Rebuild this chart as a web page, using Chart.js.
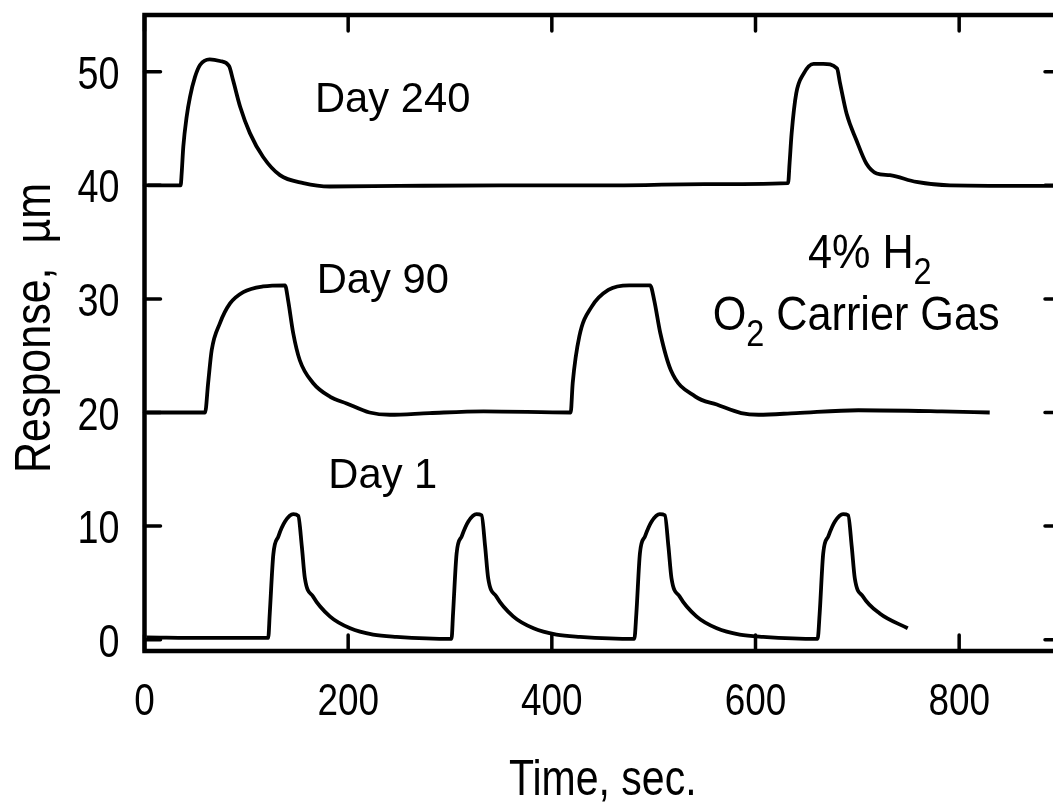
<!DOCTYPE html>
<html>
<head>
<meta charset="utf-8">
<script src="https://cdn.jsdelivr.net/npm/chart.js@4.4.1/dist/chart.umd.min.js"></script>
<style>
  html, body { margin: 0; padding: 0; background: #fff; overflow: hidden; }
  #wrap { width: 1053px; height: 804px; overflow: hidden; }
  canvas { display: block; }
</style>
</head>
<body>
<div id="wrap"><canvas id="respChart" width="1080" height="804"></canvas></div>
<script>
// time (sec) / response (um)
const day240Time = [3, 35.5, 36.5, 38.1, 41.4, 44.7, 49.6, 54.5, 64, 74, 83, 87, 94, 103.5, 116.5, 133, 156, 182, 250, 350, 450, 550, 632, 633.5, 635.5, 640, 647, 657, 666.5, 680, 683, 689.5, 699, 709, 719, 732, 758, 791, 900];
const day240Resp = [40.0, 40.0, 41.05, 43.4, 46.05, 47.8, 49.55, 50.6, 51.1, 50.95, 50.5, 49.25, 46.9, 44.6, 42.5, 40.9, 40.2, 39.9, 39.95, 40.0, 40.0, 40.1, 40.2, 42.0, 44.6, 48.1, 49.8, 50.7, 50.7, 50.3, 49.0, 46.3, 44.0, 41.9, 41.05, 40.9, 40.3, 40.0, 39.95];

const day90Time = [2, 59.5, 62.5, 66, 74, 84, 97, 116.5, 138, 141, 146, 152.5, 165.5, 182, 198.5, 221, 241, 280, 333, 418.5, 420.5, 427, 439, 455.5, 476, 496.5, 500.5, 506.5, 517, 541, 562, 586, 603, 640, 701, 783, 830];
const day90Resp = [20.0, 20.0, 22.6, 25.5, 27.85, 29.6, 30.6, 31.1, 31.2, 29.9, 27.0, 24.6, 22.6, 21.4, 20.8, 20.0, 19.8, 19.95, 20.1, 20.0, 22.6, 26.7, 29.3, 30.8, 31.2, 31.2, 29.9, 27.0, 23.7, 21.4, 20.7, 19.95, 19.8, 19.95, 20.2, 20.1, 20.0];

const day1Time = [2, 60, 121.5, 123, 126.5, 131.5, 138, 146, 151, 154.5, 157.5, 165.5, 182, 202, 224.5, 247.5, 301.5,
  303, 306.5, 311.5, 318, 326, 331, 334.5, 337.5, 345.5, 362, 382, 404.5, 427.5, 481,
  483, 486.5, 491.5, 498, 506, 511, 514.5, 517.5, 525.5, 542, 562, 584.5, 607.5, 661,
  663, 666.5, 671.5, 678, 686, 691, 694.5, 697.5, 705.5, 722, 749.5];
const day1Resp = [0.2, 0.15, 0.15, 2.3, 7.5, 9.1, 10.4, 11.05, 10.9, 8.2, 5.4, 3.8, 2.05, 1.0, 0.45, 0.25, 0.06,
  2.3, 7.6, 9.1, 10.4, 11.05, 10.95, 8.2, 5.4, 3.8, 2.05, 1.0, 0.45, 0.25, 0.06,
  2.3, 7.6, 9.1, 10.4, 11.05, 10.95, 8.2, 5.4, 3.8, 2.05, 1.0, 0.45, 0.25, 0.06,
  2.3, 7.6, 9.1, 10.4, 11.05, 10.95, 8.2, 5.4, 3.8, 2.3, 1.0];

const xTicks = [0, 200, 400, 600, 800];
const yTicks = [0, 10, 20, 30, 40, 50];
const xTitle = "Time, sec.";
const yTitle = "Response,  \u00b5m";

const FONT = '"Liberation Sans", Arial, Helvetica, sans-serif';
const SQUEEZE = 0.82; // helvetica narrow look

const toPoints = (xs, ys) => xs.map((v, i) => ({ x: v, y: ys[i] }));

const line = (label, xs, ys) => ({
  label: label,
  data: toPoints(xs, ys),
  borderColor: "#000",
  borderWidth: 3.8,
  pointRadius: 0,
  fill: false,
  cubicInterpolationMode: "monotone",
});

function narrowText(ctx, text, x, y, size, align, squeeze, rotate) {
  ctx.save();
  ctx.translate(x, y);
  if (rotate) ctx.rotate(-Math.PI / 2);
  ctx.scale(squeeze, 1);
  ctx.font = size + "px " + FONT;
  ctx.textAlign = align;
  ctx.textBaseline = "alphabetic";
  ctx.fillText(text, 0, 0);
  ctx.restore();
}

// text made of runs, some subscripted
function drawParts(ctx, parts, px, baseY, size, squeeze) {
  const main = size + "px " + FONT;
  const sub = Math.round(size * 0.75) + "px " + FONT;
  ctx.save();
  ctx.translate(px, baseY);
  ctx.scale(squeeze, 1);
  ctx.textAlign = "left";
  ctx.textBaseline = "alphabetic";
  let x = 0;
  parts.forEach((p) => {
    ctx.font = p.sub ? sub : main;
    ctx.fillText(p.t, x, p.sub ? size * 0.33 : 0);
    x += ctx.measureText(p.t).width;
  });
  ctx.restore();
}

// frame, inward ticks on all four sides, tick labels and axis titles
const framePlugin = {
  id: "frame",
  afterDatasetsDraw(chart) {
    const { ctx, chartArea: a, scales: { x, y } } = chart;
    ctx.save();
    ctx.strokeStyle = "#000";
    ctx.fillStyle = "#000";
    ctx.lineWidth = 4.5;
    ctx.strokeRect(a.left, a.top, a.right - a.left, a.bottom - a.top);
    ctx.lineWidth = 3.5;
    ctx.lineCap = "round";
    const len = 16;
    ctx.beginPath();
    x.ticks.forEach((t) => {
      const px = x.getPixelForValue(t.value);
      ctx.moveTo(px, a.bottom); ctx.lineTo(px, a.bottom - len);
      ctx.moveTo(px, a.top); ctx.lineTo(px, a.top + len);
    });
    y.ticks.forEach((t) => {
      const py = y.getPixelForValue(t.value);
      ctx.moveTo(a.left, py); ctx.lineTo(a.left + len, py);
      ctx.moveTo(a.right, py); ctx.lineTo(a.right - len, py);
    });
    ctx.stroke();

    x.ticks.forEach((t) => {
      narrowText(ctx, String(t.value), x.getPixelForValue(t.value), a.bottom + 64, 45, "center", SQUEEZE);
    });
    y.ticks.forEach((t) => {
      narrowText(ctx, String(t.value), a.left - 25, y.getPixelForValue(t.value) + 17, 46, "right", SQUEEZE);
    });
    narrowText(ctx, xTitle, (a.left + a.right) / 2, a.bottom + 144, 50, "center", SQUEEZE);
    narrowText(ctx, yTitle, 50, (a.top + a.bottom) / 2 - 5, 50, "center", 0.86, true);
    ctx.restore();
  },
};

const labelPlugin = {
  id: "labels",
  afterDraw(chart) {
    const { ctx, scales: { x, y } } = chart;
    ctx.save();
    ctx.fillStyle = "#000";
    drawParts(ctx, [{ t: "Day 240" }], x.getPixelForValue(167.4), y.getPixelForValue(46.46), 43, 0.97);
    drawParts(ctx, [{ t: "Day 90" }], x.getPixelForValue(169.1), y.getPixelForValue(30.55), 43, 0.97);
    drawParts(ctx, [{ t: "Day 1" }], x.getPixelForValue(180.5), y.getPixelForValue(13.32), 43, 0.97);
    drawParts(ctx, [{ t: "4% H" }, { t: "2", sub: true }], x.getPixelForValue(651.5), y.getPixelForValue(32.69), 48, 0.9);
    drawParts(ctx, [{ t: "O" }, { t: "2", sub: true }, { t: " Carrier Gas" }], x.getPixelForValue(558), y.getPixelForValue(27.26), 48, 0.9);
    ctx.restore();
  },
};

const data = {
  datasets: [
    line("Day 240", day240Time, day240Resp),
    line("Day 90", day90Time, day90Resp),
    line("Day 1", day1Time, day1Resp),
  ],
};

const zeroPad = (s) => { s.paddingTop = 0; s.paddingBottom = 0; s.paddingLeft = 0; s.paddingRight = 0; };

const config = {
  type: "line",
  data: data,
  options: {
    responsive: false,
    animation: false,
    devicePixelRatio: 1,
    layout: { padding: { top: 15, right: 19, left: 0, bottom: 0 } },
    plugins: { legend: { display: false }, tooltip: { enabled: false } },
    scales: {
      x: {
        type: "linear",
        min: 0,
        max: 900,
        grid: { display: false, drawTicks: false },
        border: { display: false },
        ticks: { display: false },
        afterBuildTicks: (s) => { s.ticks = xTicks.map((v) => ({ value: v })); },
        afterFit: (s) => { s.height = 153; zeroPad(s); },
      },
      y: {
        type: "linear",
        min: -1,
        max: 55,
        grid: { display: false, drawTicks: false },
        border: { display: false },
        ticks: { display: false },
        afterBuildTicks: (s) => { s.ticks = yTicks.map((v) => ({ value: v })); },
        afterFit: (s) => { s.width = 144.5; zeroPad(s); },
      },
    },
  },
  plugins: [framePlugin, labelPlugin],
};

new Chart(document.getElementById("respChart"), config);
</script>
</body>
</html>
